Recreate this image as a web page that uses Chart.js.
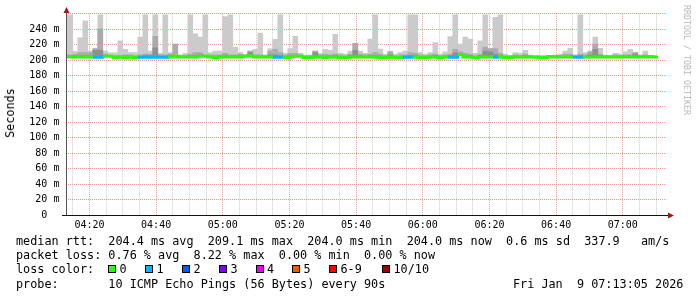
<!DOCTYPE html>
<html lang="en">
<head>
<meta charset="UTF-8">
<title>SmokePing latency</title>
<script src="https://cdn.jsdelivr.net/npm/chart.js"></script>
<style>
    body { margin: 0; background: #fff; }
    .wrap { position: relative; width: 697px; height: 297px; overflow: hidden; font-family: "DejaVu Sans Mono", monospace; color: #000; }
    #chart { position: absolute; left: 0; top: 0; }
    .line { position: absolute; left: 16px; font-size: 11.8px; line-height: 14px; white-space: pre; }
    .sq { position: absolute; width: 6px; height: 6px; border: 1px solid #000; top: 265px; }
    .lab { position: absolute; font-size: 11.8px; line-height: 14px; top: 262.4px; white-space: pre; }
    .ylab { position: absolute; left: 10px; top: 112.5px; font-size: 11.8px; transform: translate(-50%, -50%) rotate(-90deg); white-space: pre; }
    .credit { position: absolute; left: 687px; top: 60px; font-size: 8.3px; color: #b8b8b8; transform: translate(-50%, -50%) rotate(90deg); white-space: pre; }
</style>
</head>
<body>
<div class="wrap">
    <canvas id="chart" width="697" height="297"></canvas>
    <div class="ylab">Seconds</div>
    <div class="credit">RRDTOOL / TOBI OETIKER</div>
    <div class="line" style="top:233.6px">median rtt:  204.4 ms avg  209.1 ms max  204.0 ms min  204.0 ms now  0.6 ms sd  337.9   am/s</div>
    <div class="line" style="top:248px">packet loss: 0.76 % avg  8.22 % max  0.00 % min  0.00 % now</div>
    <div class="line" style="top:262.4px">loss color:</div>
    <div id="lossLegend"></div>
    <div class="line" style="top:277px">probe:       10 ICMP Echo Pings (56 Bytes) every 90s</div>
    <div class="line" style="top:277px; left:513px">Fri Jan  9 07:13:05 2026</div>
</div>

<script>
    // time axis: minutes after 04:00, window 04:13:05 .. 07:13:05, 90 s steps
    const viewStart = 13 + 5 / 60;
    const viewEnd = 193 + 5 / 60;
    const firstStep = 12;     // 04:12:00
    const stepMin = 1.5;

    // median rtt per step (ms)
    const median = [
        204.3, 204.3, 204.3, 204.3, 204.3, 204.3, 204.0, 204.0, 205.2, 205.2,
        203.7, 204.3, 203.7, 204.3, 203.7, 204.0, 204.0, 204.0, 204.0, 204.0,
        204.0, 204.3, 205.2, 204.3, 204.3, 204.3, 204.3, 205.2, 205.2, 204.3,
        203.7, 204.3, 204.3, 204.3, 204.3, 204.3, 205.2, 205.8, 204.3, 204.3,
        204.3, 204.3, 204.0, 204.0, 203.7, 204.3, 205.2, 205.2, 203.7, 203.7,
        204.3, 204.3, 203.7, 204.3, 204.3, 203.7, 203.7, 204.3, 204.3, 204.3,
        204.3, 204.3, 204.3, 203.7, 203.7, 204.3, 203.7, 203.7, 204.0, 204.0,
        204.3, 203.7, 203.7, 204.3, 204.3, 203.7, 204.3, 204.0, 204.0, 207.5,
        204.3, 204.3, 203.7, 204.3, 204.3, 204.3, 204.0, 204.3, 203.7, 203.7,
        204.3, 204.3, 204.3, 204.3, 204.3, 203.7, 203.7, 204.8, 204.3, 204.3,
        204.8, 204.3, 204.0, 204.0, 204.3, 204.3, 204.3, 204.3, 204.3, 204.3,
        204.3, 204.3, 204.8, 204.3, 204.3, 204.3, 204.3, 204.8, 204.3
    ];

    // number of lost pings per step (out of 10)
    const loss = [
        0, 0, 0, 0, 0, 0, 1, 1, 0, 0,
        0, 0, 0, 0, 0, 1, 1, 1, 1, 1,
        1, 0, 0, 0, 0, 0, 0, 0, 0, 0,
        0, 0, 0, 0, 0, 0, 0, 0, 0, 0,
        0, 0, 1, 1, 0, 0, 0, 0, 0, 0,
        0, 0, 0, 0, 0, 0, 0, 0, 0, 0,
        0, 0, 0, 0, 0, 0, 0, 0, 1, 1,
        0, 0, 0, 0, 0, 0, 0, 1, 1, 0,
        0, 0, 0, 0, 0, 0, 1, 0, 0, 0,
        0, 0, 0, 0, 0, 0, 0, 0, 0, 0,
        0, 0, 1, 1, 0, 0, 0, 0, 0, 0,
        0, 0, 0, 0, 0, 0, 0, 0, 0
    ];

    // smoke: highest ping per step (ms)
    const smokeMax = [
        258.7, 258.7, 211.5, 229.0, 251.0, 212.0, 215.0, 258.7, 212.0, 209.5,
        209.5, 225.0, 214.0, 210.0, 210.0, 230.0, 258.7, 212.0, 258.7, 209.0,
        258.7, 210.0, 221.0, 207.0, 209.0, 258.7, 234.0, 230.0, 258.7, 210.0,
        212.0, 212.0, 256.5, 258.7, 217.0, 210.0, 207.0, 212.0, 214.0, 235.0,
        207.0, 215.0, 227.0, 258.7, 209.0, 215.0, 231.0, 209.0, 206.0, 207.0,
        212.0, 209.0, 214.0, 213.0, 233.5, 209.0, 208.0, 212.0, 222.0, 212.0,
        209.0, 227.5, 258.7, 214.5, 208.0, 212.0, 208.0, 210.0, 212.0, 258.7,
        258.7, 210.0, 208.0, 210.0, 223.0, 208.0, 211.0, 230.5, 258.7, 221.0,
        230.0, 227.5, 209.0, 225.0, 258.7, 215.0, 255.5, 258.7, 208.0, 206.5,
        210.0, 209.0, 213.0, 206.7, 206.0, 206.0, 206.0, 205.5, 207.0, 208.0,
        212.0, 215.5, 207.0, 258.7, 210.0, 212.0, 230.0, 215.5, 206.7, 206.0,
        209.0, 208.0, 211.0, 214.0, 210.0, 207.0, 212.0, 205.5, 205.5
    ];

    // smoke: inner (darker) band top per step (ms)
    const smokeMid = [
        207, 207, 208, 210, 210, 210, 215, 240.5, 208, 206,
        206, 206, 207, 207, 206, 207, 208, 208, 231, 207,
        207, 208, 221, 206, 206, 208, 210, 210, 207, 207,
        207, 207, 209, 207, 207, 208, 207, 212, 207, 207,
        206, 212, 214, 210, 207, 209, 209, 207, 206, 206,
        212, 207, 208, 207, 208, 207, 206, 208, 222, 208,
        207, 208, 210, 208, 206, 211, 206, 207, 207, 210,
        209, 207, 206, 207, 208, 206, 207, 208, 214, 211,
        209, 208, 206, 208, 217, 215, 215, 209, 206, 206,
        207, 206, 208, 206, 205.5, 205.5, 205.5, 205, 206, 206,
        208, 208, 206, 208, 207, 211, 221, 208, 206, 206,
        207, 206, 207, 207, 210, 206, 207, 205, 205
    ];

    // smoke: core (darkest) band top per step (ms)
    const smokeCore = [
        205.5, 205.5, 206, 206, 206, 206, 213, 213, 206.5, 205.5,
        205, 205.5, 205.5, 205.5, 205, 205.5, 206, 206, 216, 205.5,
        205.5, 206, 206, 205.5, 205.5, 206, 206, 207, 206, 205.5,
        205, 205.5, 206, 205.5, 205.5, 206, 206, 210, 205.5, 205.5,
        205, 207, 207, 206, 205, 206, 206.5, 206.5, 205, 205,
        210, 205.5, 205.5, 205.5, 206, 205, 205, 206, 213, 206,
        205.5, 206, 206, 205.5, 205, 207, 205, 205, 205.5, 206,
        206, 205, 205, 205.5, 206, 205, 205.5, 206, 210, 209,
        206, 206, 205, 206, 212, 211, 208, 206, 205, 205,
        205.5, 205.5, 206, 205, 205, 205, 205, 204.8, 205.5, 205.5,
        206, 206, 205.5, 206, 205.5, 207, 214, 206, 205, 205,
        205.5, 205.5, 206, 206, 208, 205.5, 206, 204.8, 204.8
    ];

    const yTicks = [0, 10, 20, 30, 40, 50, 60, 70, 80, 90, 100, 110, 120, 130,
                    140, 150, 160, 170, 180, 190, 200, 210, 220, 230, 240, 250, 260];
    const xTicks = [15, 20, 25, 30, 35, 40, 45, 50, 55, 60, 65, 70, 75, 80, 85, 90, 95,
                    100, 105, 110, 115, 120, 125, 130, 135, 140, 145, 150, 155, 160,
                    165, 170, 175, 180, 185, 190];

    const lossNames = ['0', '1', '2', '3', '4', '5', '6-9', '10/10'];
    const lossColors = ['#26ff00', '#00b8ff', '#0059ff', '#7e00ff', '#ee00ff', '#ff5500', '#ff0000', '#a00000'];
    const lossLegendX = [108, 145, 182, 219, 255.5, 292, 329, 382];

    function lossColor(n) {
        if (n <= 5) return lossColors[n];
        if (n < 10) return lossColors[6];
        return lossColors[7];
    }

    // legend squares for loss colours
    const legendBox = document.getElementById('lossLegend');
    lossNames.forEach((name, i) => {
        const sq = document.createElement('div');
        sq.className = 'sq';
        sq.style.left = lossLegendX[i] + 'px';
        sq.style.background = lossColors[i];
        legendBox.appendChild(sq);
        const lab = document.createElement('div');
        lab.className = 'lab';
        lab.style.left = (lossLegendX[i] + 11.5) + 'px';
        lab.textContent = name;
        legendBox.appendChild(lab);
    });

    const stepCenter = i => firstStep + stepMin * i + stepMin / 2;
    const bandData = top => top.map((v, i) => ({ x: stepCenter(i), y: [median[i], v] }));

    const medianPoints = median.map((v, i) => ({ x: firstStep + stepMin * i, y: v }));
    medianPoints.push({ x: firstStep + stepMin * median.length, y: median[median.length - 1] });

    function hhmm(m) {
        const h = 4 + Math.floor(m / 60);
        const mm = m % 60;
        return String(h).padStart(2, '0') + ':' + String(mm).padStart(2, '0');
    }

    // axis lines and arrows, drawn the rrdtool way
    const axisDeco = {
        id: 'axisDeco',
        afterDatasetsDraw(chart) {
            const { ctx, chartArea: a } = chart;
            const ax = Math.floor(a.left) + 0.5;
            const ay = Math.floor(a.bottom) + 0.5;
            ctx.save();
            ctx.lineWidth = 1;
            ctx.strokeStyle = '#555';
            ctx.beginPath();
            ctx.moveTo(ax, 11);
            ctx.lineTo(ax, ay);
            ctx.stroke();
            ctx.strokeStyle = '#111';
            ctx.beginPath();
            ctx.moveTo(62, ay);
            ctx.lineTo(670, ay);
            ctx.stroke();
            ctx.fillStyle = '#9c1a1a';
            ctx.beginPath();
            ctx.moveTo(ax, 7);
            ctx.lineTo(ax - 3, 13);
            ctx.lineTo(ax + 3, 13);
            ctx.closePath();
            ctx.fill();
            ctx.beginPath();
            ctx.moveTo(674, ay);
            ctx.lineTo(668, ay - 3);
            ctx.lineTo(668, ay + 3);
            ctx.closePath();
            ctx.fill();
            ctx.restore();
        }
    };

    const tickFont = { family: 'DejaVu Sans Mono', size: 10 };

    new Chart(document.getElementById('chart').getContext('2d'), {
        type: 'bar',
        data: {
            datasets: [
                {
                    type: 'line',
                    label: 'median',
                    data: medianPoints,
                    stepped: true,
                    borderWidth: 3,
                    borderColor: lossColors[0],
                    pointRadius: 0,
                    fill: false,
                    order: 0,
                    segment: {
                        borderColor: c => lossColor(loss[c.p0DataIndex] || 0)
                    }
                },
                {
                    label: 'core',
                    data: bandData(smokeCore),
                    backgroundColor: '#8f8f8f',
                    grouped: false,
                    barPercentage: 1,
                    categoryPercentage: 1,
                    order: 1
                },
                {
                    label: 'mid',
                    data: bandData(smokeMid),
                    backgroundColor: '#ababab',
                    grouped: false,
                    barPercentage: 1,
                    categoryPercentage: 1,
                    order: 2
                },
                {
                    label: 'max',
                    data: bandData(smokeMax),
                    backgroundColor: '#cbcbcb',
                    grouped: false,
                    barPercentage: 1,
                    categoryPercentage: 1,
                    order: 3
                }
            ]
        },
        options: {
            responsive: false,
            animation: false,
            events: [],
            layout: { padding: { left: 0, right: 30.6, top: 13.8, bottom: 0 } },
            plugins: { legend: { display: false }, tooltip: { enabled: false } },
            scales: {
                x: {
                    type: 'linear',
                    offset: false,
                    min: viewStart,
                    max: viewEnd,
                    afterFit: s => { s.height = 81.8; s.paddingLeft = 0; s.paddingRight = 0; },
                    afterBuildTicks: s => { s.ticks = xTicks.map(v => ({ value: v })); },
                    ticks: {
                        autoSkip: false,
                        maxRotation: 0,
                        padding: 4,
                        color: '#000',
                        font: tickFont,
                        callback: v => (v % 20 === 0 ? hhmm(v) : '')
                    },
                    grid: {
                        offset: false,
                        drawTicks: false,
                        borderDash: [1, 1],
                        color: c => (c.tick && c.tick.value % 20 === 0 ? '#e49c9c' : '#cdcdcd')
                    },
                    border: { display: false, dash: [1, 1] }
                },
                y: {
                    min: 0,
                    max: 260,
                    afterFit: s => { s.width = 66.4; },
                    afterBuildTicks: s => { s.ticks = yTicks.map(v => ({ value: v })); },
                    ticks: {
                        padding: 7,
                        color: '#000',
                        font: tickFont,
                        callback: v => (v % 20 !== 0 || v === 260 ? '' : (v === 0 ? '0  ' : v + ' m'))
                    },
                    grid: {
                        drawTicks: false,
                        borderDash: [1, 1],
                        color: c => (c.tick && c.tick.value === 0 ? 'rgba(0,0,0,0)' :
                                     c.tick && c.tick.value % 20 === 0 ? '#e49c9c' : '#cdcdcd')
                    },
                    border: { display: false, dash: [1, 1] }
                }
            }
        },
        plugins: [axisDeco]
    });
</script>
</body>
</html>
